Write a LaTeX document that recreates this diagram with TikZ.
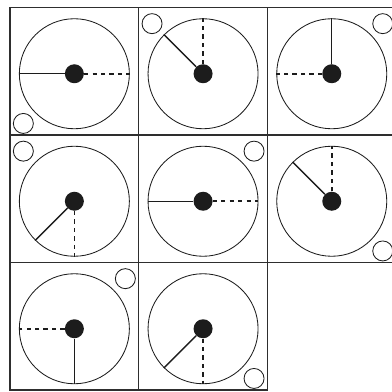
\documentclass[tikz,border=0pt]{standalone}
\usetikzlibrary{positioning}
\definecolor{ink}{HTML}{1C1C1C}
\definecolor{rule}{HTML}{2E2E2E}
\tikzset{
  %
  cell/.style={draw=rule, line width=0.9pt, inner sep=0pt,
               minimum width=3.2175cm, minimum height=3.1875cm},
  dial/.style={circle, draw=ink, line width=0.6pt, inner sep=0pt,
               minimum size=2.75cm},
  hub/.style={circle, fill=ink, inner sep=0pt, minimum size=0.475cm},
  ring/.style={circle, draw=ink, line width=0.6pt, inner sep=0pt,
               minimum size=0.5cm},
  %
  spoke/.style={draw=ink, line width=1pt},
  ghost/.style={draw=ink, line width=1.1pt, dash pattern=on 3pt off 3pt},
}

\begin{document}
\begin{tikzpicture}[x=0.025cm, y=-0.025cm]

  \useasboundingbox (0,0) rectangle (392,392);
  \clip (0,0) rectangle (392,392);

  % row 1
  \node[cell] (c1) at (74.35,71.25) {};
  \node[dial] (d1) at (74.35,73.75) {};
  \node[hub]  (h1) at (d1) {};
  \node[ring] (r1) at ([shift={(14,-12.2)}]c1.south west) {};
  \draw[spoke] (h1) -- (d1.180);
  \draw[ghost] (h1) -- (d1.0);

  \node[cell] (c2) at (203.05,71.25) {};
  \node[dial] (d2) at (203.05,73.75) {};
  \node[hub]  (h2) at (d2) {};
  \node[ring] (r2) at ([shift={(14,16.8)}]c2.north west) {};
  \draw[spoke] (h2) -- (d2.135);
  \draw[ghost] (h2) -- (d2.90);

  \node[cell] (c3) at (331.75,71.25) {};
  \node[dial] (d3) at (331.75,73.75) {};
  \node[hub]  (h3) at (d3) {};
  \node[ring] (r3) at ([shift={(-14,16.8)}]c3.north east) {};
  \draw[spoke] (h3) -- (d3.90);
  \draw[ghost] (h3) -- (d3.180);

  % row 2
  \node[cell] (c4) at (74.35,198.75) {};
  \node[dial] (d4) at (74.35,201.25) {};
  \node[hub]  (h4) at (d4) {};
  \node[ring] (r4) at ([shift={(14,16.8)}]c4.north west) {};
  \draw[spoke] (h4) -- (d4.225);
  \draw[ghost] (h4) -- (d4.270);

  \node[cell] (c5) at (203.05,198.75) {};
  \node[dial] (d5) at (203.05,201.25) {};
  \node[hub]  (h5) at (d5) {};
  \node[ring] (r5) at ([shift={(-14,16.8)}]c5.north east) {};
  \draw[spoke] (h5) -- (d5.180);
  \draw[ghost] (h5) -- (d5.0);

  \node[cell] (c6) at (331.75,198.75) {};
  \node[dial] (d6) at (331.75,201.25) {};
  \node[hub]  (h6) at (d6) {};
  \node[ring] (r6) at ([shift={(-14,-12.2)}]c6.south east) {};
  \draw[spoke] (h6) -- (d6.135);
  \draw[ghost] (h6) -- (d6.90);

  % row 3, last square left empty
  \node[cell] (c7) at (74.35,326.25) {};
  \node[dial] (d7) at (74.35,328.75) {};
  \node[hub]  (h7) at (d7) {};
  \node[ring] (r7) at ([shift={(-14,16.8)}]c7.north east) {};
  \draw[spoke] (h7) -- (d7.270);
  \draw[ghost] (h7) -- (d7.180);

  \node[cell] (c8) at (203.05,326.25) {};
  \node[dial] (d8) at (203.05,328.75) {};
  \node[hub]  (h8) at (d8) {};
  \node[ring] (r8) at ([shift={(-14,-12.2)}]c8.south east) {};
  \draw[spoke] (h8) -- (d8.225);
  \draw[ghost] (h8) -- (d8.270);

\end{tikzpicture}
\end{document}
